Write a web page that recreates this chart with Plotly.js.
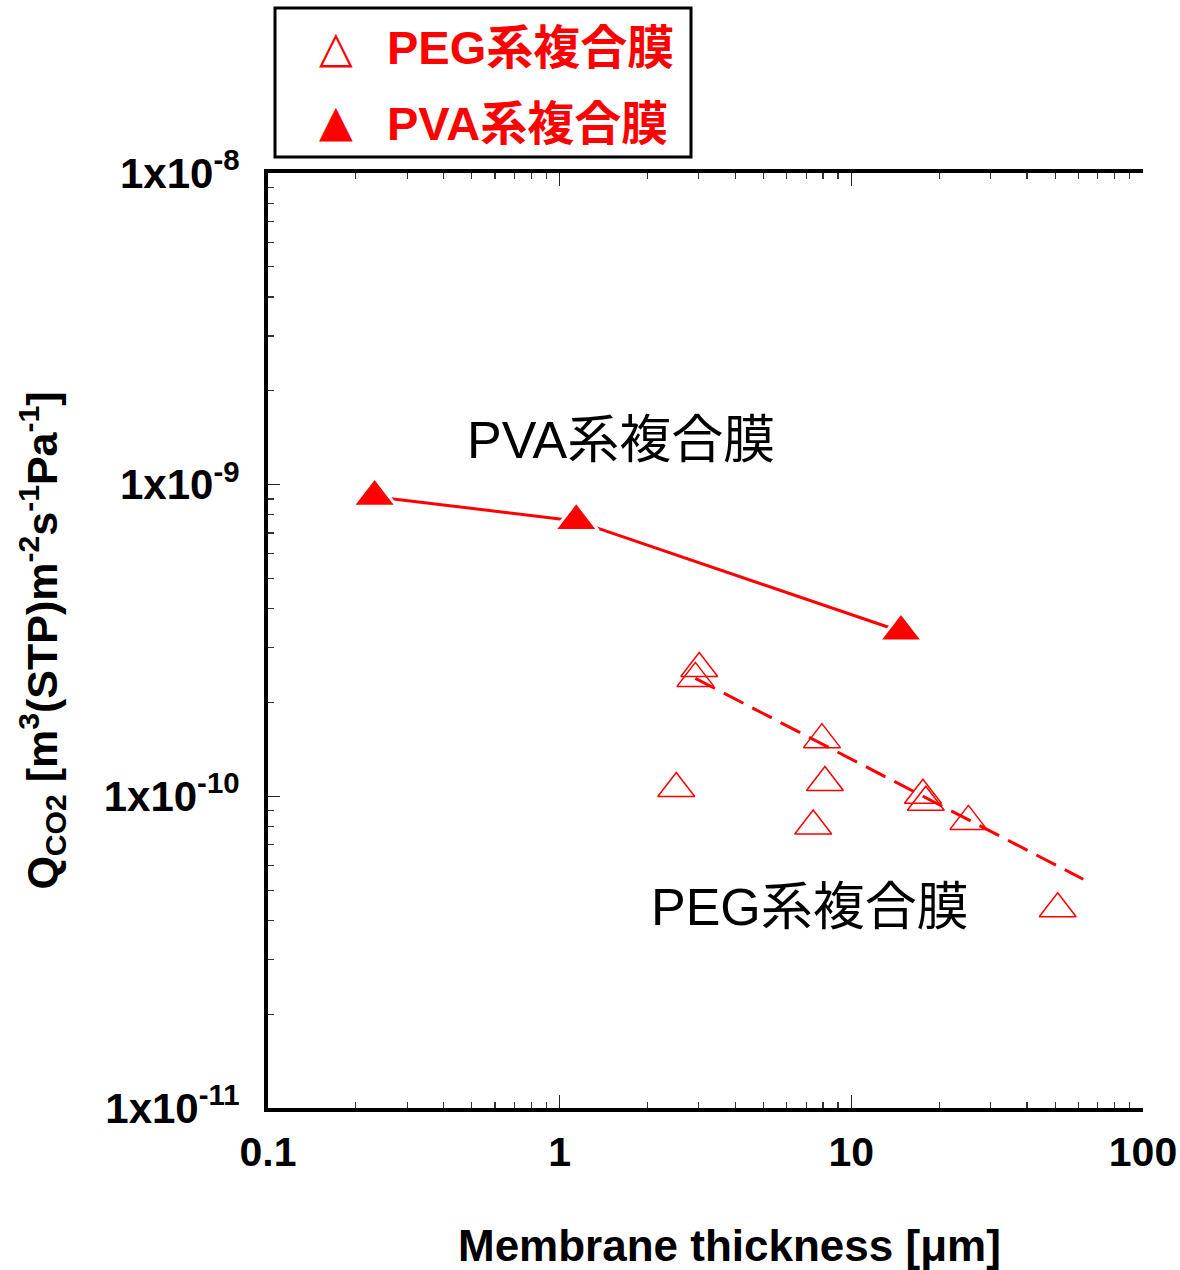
<!DOCTYPE html>
<html>
<head>
<meta charset="utf-8">
<script src="https://cdn.plot.ly/plotly-3.0.1.min.js"></script>
<style>html,body{margin:0;padding:0;background:#fff;}#chart{width:1180px;height:1270px;}</style>
</head>
<body>
<div id="chart"></div>
<script>
// Data
const thicknessPEG = [3.01, 2.92, 2.51, 7.93, 8.12, 7.40, 17.6, 18.0, 25.2, 51.0];
const qPEG = [2.57e-10, 2.39e-10, 1.06e-10, 1.52e-10, 1.107e-10, 8.03e-11, 1.008e-10, 9.57e-11, 8.31e-11, 4.36e-11];
const thicknessPVA = [0.232, 1.14, 14.8];
const qPVA = [9.15e-10, 7.65e-10, 3.38e-10];
const fitThicknessPEG = [2.92, 62.4];
const fitQPEG = [2.39e-10, 5.42e-11];

const xTickVals = [0.1, 1, 10, 100];
const xTickText = ['0.1', '1', '10', '100'];
const yTickVals = [1e-11, 1e-10, 1e-9, 1e-8];
const yTickText = ['1x10<sup>-11</sup>', '1x10<sup>-10</sup>', '1x10<sup>-9</sup>', '1x10<sup>-8</sup>'];

const seriesNames = ['PEG系複合膜', 'PVA系複合膜'];
const RED = '#ff0000';
const FONT = 'Liberation Sans, Arial, Noto Sans CJK JP, sans-serif';

const traces = [
  {
    x: fitThicknessPEG, y: fitQPEG, mode: 'lines', showlegend: false, hoverinfo: 'skip',
    line: {color: RED, width: 3, dash: '22px,10px'}
  },
  {
    x: thicknessPVA, y: qPVA, mode: 'lines+markers', name: seriesNames[1], showlegend: false,
    line: {color: RED, width: 3},
    marker: {symbol: 'triangle-up', size: 38, color: RED, line: {color: '#ffffff', width: 3}}
  },
  {
    x: thicknessPEG, y: qPEG, mode: 'markers', name: seriesNames[0], showlegend: false,
    marker: {symbol: 'triangle-up-open', size: 32, color: RED, line: {color: RED, width: 1.5}}
  }
];

const L = 268, R = 1143, T = 173, B = 1108;
const px = v => (v - L) / (R - L);
const py = v => (B - v) / (B - T);

const layout = {
  width: 1180, height: 1270,
  margin: {l: L, r: 1180 - R, t: T, b: 1270 - B, pad: 0},
  paper_bgcolor: '#ffffff', plot_bgcolor: '#ffffff',
  showlegend: false,
  xaxis: {
    type: 'log', range: [-1, 2],
    tickmode: 'array', tickvals: xTickVals, ticktext: xTickText,
    ticks: 'inside', ticklen: 13, tickwidth: 1.5, tickcolor: '#222',
    minor: {tickmode: 'linear', dtick: 'D1', ticks: 'inside', ticklen: 6, tickwidth: 1.2, tickcolor: '#333'},
    showline: true, linewidth: 4, linecolor: '#000', mirror: 'allticks',
    showgrid: false, zeroline: false,
    tickfont: {family: FONT, size: 41, color: '#000', weight: 'bold'},
    ticklabelstandoff: 5
  },
  yaxis: {
    type: 'log', range: [-11, -8],
    tickmode: 'array', tickvals: yTickVals, ticktext: yTickText,
    ticks: 'inside', ticklen: 12, tickwidth: 1.5, tickcolor: '#222',
    minor: {tickmode: 'linear', dtick: 'D1', ticks: 'inside', ticklen: 6, tickwidth: 1.2, tickcolor: '#333'},
    showline: true, linewidth: 4, linecolor: '#000',
    showgrid: false, zeroline: false,
    tickfont: {family: FONT, size: 42, color: '#000', weight: 'bold'},
    ticklabelstandoff: 16,
    title: {
      text: 'Q<sub>CO2</sub> [m<sup>3</sup>(STP)m<sup>-2</sup>s<sup>-1</sup>Pa<sup>-1</sup>]',
      font: {family: FONT, size: 43, color: '#000', weight: 'bold'},
      standoff: 34
    }
  },
  yaxis2: {
    overlaying: 'y', side: 'right', range: [0, 40],
    tickmode: 'linear', tick0: 0, dtick: 5,
    ticks: 'inside', ticklen: 14, tickwidth: 1.5, tickcolor: '#333',
    minor: {dtick: 1, ticks: 'inside', ticklen: 7, tickwidth: 1.2, tickcolor: '#444'},
    showticklabels: false, showgrid: false, zeroline: false,
    showline: true, linewidth: 4, linecolor: '#000'
  },
  shapes: [
    {type: 'rect', xref: 'paper', yref: 'paper', x0: px(275), x1: px(691), y0: py(157), y1: py(8),
     line: {color: '#000', width: 3}, fillcolor: 'rgba(0,0,0,0)'}
  ],
  annotations: [
    {xref: 'paper', yref: 'paper', x: px(336), y: py(46), xanchor: 'center', yanchor: 'middle', showarrow: false,
     text: '△', font: {family: 'DejaVu Sans', size: 44, color: RED}},
    {xref: 'paper', yref: 'paper', x: px(336), y: py(121), xanchor: 'center', yanchor: 'middle', showarrow: false,
     text: '▲', font: {family: 'DejaVu Sans', size: 44, color: RED}},
    {xref: 'paper', yref: 'paper', x: px(385), y: py(48), xanchor: 'left', yanchor: 'middle', showarrow: false,
     text: seriesNames[0], font: {family: FONT, size: 47, color: RED, weight: 'bold'}},
    {xref: 'paper', yref: 'paper', x: px(385), y: py(123), xanchor: 'left', yanchor: 'middle', showarrow: false,
     text: seriesNames[1], font: {family: FONT, size: 47, color: RED, weight: 'bold'}},
    {xref: 'paper', yref: 'paper', x: px(465), y: py(440), xanchor: 'left', yanchor: 'middle', showarrow: false,
     text: seriesNames[1], font: {family: FONT, size: 52, color: '#000'}},
    {xref: 'paper', yref: 'paper', x: px(649), y: py(907), xanchor: 'left', yanchor: 'middle', showarrow: false,
     text: seriesNames[0], font: {family: FONT, size: 52, color: '#000'}},
    {xref: 'paper', yref: 'paper', x: px(729.5), y: py(1245), xanchor: 'center', yanchor: 'middle', showarrow: false,
     text: 'Membrane thickness [μm]', font: {family: FONT, size: 44, color: '#000', weight: 'bold'}}
  ]
};

Plotly.newPlot('chart', traces, layout, {staticPlot: true, displayModeBar: false});
</script>
</body>
</html>
